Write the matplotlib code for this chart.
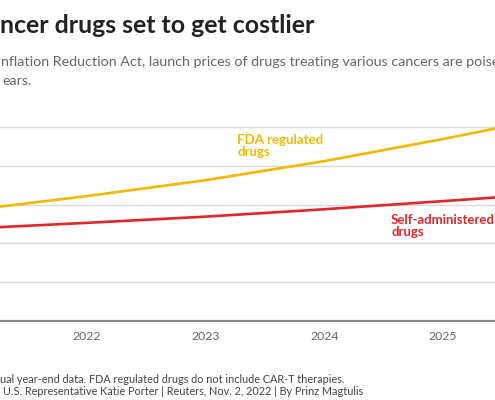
import matplotlib
matplotlib.use("Agg")
import matplotlib.pyplot as plt

# annual year-end launch prices, thousands of dollars
years = [2021, 2022, 2023, 2024, 2025, 2026]
fda_regulated = [285, 322, 363, 412, 469, 530]
self_administered = [238, 253, 269, 288, 309, 330]
tick_years = [2022, 2023, 2024, 2025]
grid_values = [100, 200, 300, 400, 500]

YELLOW = "#f3b800"
RED = "#e2262b"
W, H = 495, 400

plt.rcParams["font.family"] = ["Lato", "DejaVu Sans"]

fig = plt.figure(figsize=(W / 100, H / 100), dpi=100)
ax = fig.add_axes([0, (H - 321) / H, 1, 206 / H])


def fx(px):
    return px / W


def fy(py):
    return 1 - py / H


ax.plot(years, fda_regulated, color=YELLOW, lw=1.9, solid_capstyle="butt", zorder=3)
ax.plot(years, self_administered, color=RED, lw=1.9, solid_capstyle="butt", zorder=3)

ax.set_xlim(2021.2665, 2025.44)
ax.set_ylim(0, 531)
ax.set_xticks(tick_years)
ax.set_xticklabels([str(y) for y in tick_years])
ax.set_yticks(grid_values)
ax.set_yticklabels([])
ax.tick_params(axis="both", length=0)
ax.tick_params(axis="x", pad=7.2, labelsize=8.8, labelcolor="#666666")
ax.grid(axis="y", color="#dadada", lw=1.0)
ax.set_axisbelow(True)
for side in ["top", "left", "right"]:
    ax.spines[side].set_visible(False)
ax.spines["bottom"].set_color("#8a8a8a")
ax.spines["bottom"].set_linewidth(1.6)

# series labels (baseline is the second line)
ax.text(fx(237), fy(156), "FDA regulated\ndrugs", transform=fig.transFigure,
        color=YELLOW, fontsize=9.5, fontweight="bold", va="baseline",
        linespacing=1.0)
ax.text(fx(391), fy(236), "Self-administered\ndrugs", transform=fig.transFigure,
        color=RED, fontsize=9.5, fontweight="bold", va="baseline",
        linespacing=1.0)

# header (cropped at the left edge like the source)
fig.text(fx(0), fy(33), "ncer drugs set to get costlier", fontsize=17.9,
         fontweight="bold", color="#222222", va="baseline")
fig.text(fx(1), fy(66), "nflation Reduction Act, launch prices of drugs treating "
         "various cancers are poised", fontsize=10.3, color="#666666",
         va="baseline")
fig.text(fx(2), fy(85), "ears.", fontsize=10.3, color="#666666", va="baseline")

# footer
fig.text(fx(0), fy(383), "ual year-end data. FDA regulated drugs do not include "
         "CAR-T therapies.", fontsize=7.8, color="#444444", va="baseline")
fig.text(fx(3), fy(395), "U.S. Representative Katie Porter | Reuters, Nov. 2, 2022 "
         "| By Prinz Magtulis", fontsize=7.8, color="#444444", va="baseline")

fig.savefig("out.png", dpi=100)
